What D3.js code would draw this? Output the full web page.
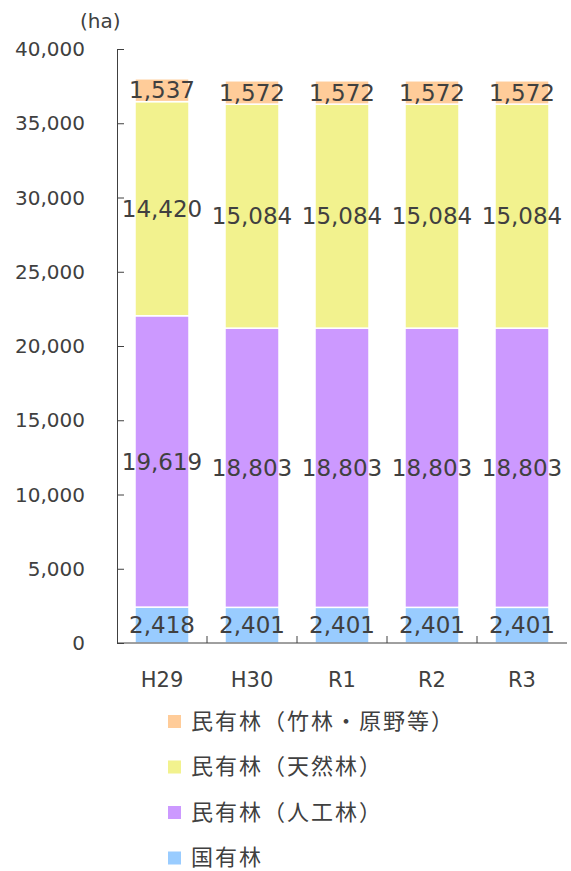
<!DOCTYPE html>
<html lang="ja">
<head>
<meta charset="UTF-8">
<title>森林面積の推移</title>
<script src="https://d3js.org/d3.v7.min.js"></script>
<style>
    body {
        margin: 0;
        background: #fff;
        font-family: "DejaVu Sans", "Noto Sans CJK JP", sans-serif;
    }
    text { fill: #404040; }
</style>
</head>
<body>
<script>
    // data
    const years = ["H29", "H30", "R1", "R2", "R3"];
    const kokuyu = [2418, 2401, 2401, 2401, 2401];     // 国有林
    const jinko = [19619, 18803, 18803, 18803, 18803]; // 民有林（人工林）
    const tennen = [14420, 15084, 15084, 15084, 15084]; // 民有林（天然林）
    const chiku = [1537, 1572, 1572, 1572, 1572];       // 民有林（竹林・原野等）
    const seriesNames = ["国有林", "民有林（人工林）", "民有林（天然林）", "民有林（竹林・原野等）"];
    const yTicks = [0, 5000, 10000, 15000, 20000, 25000, 30000, 35000, 40000];

    const colors = ["#99CCFF", "#CC99FF", "#F2F28E", "#FFCC99"];

    const width = 571, height = 871;
    const margin = {left: 117, top: 49, right: 4, bottom: 228};

    const svg = d3.select("body").append("svg")
        .attr("width", width)
        .attr("height", height);

    const rows = years.map((y, i) => ({
        year: y, s0: kokuyu[i], s1: jinko[i], s2: tennen[i], s3: chiku[i]
    }));
    const stacked = d3.stack().keys(["s0", "s1", "s2", "s3"])(rows);

    const x = d3.scaleBand()
        .domain(years)
        .range([margin.left, width - margin.right])
        .paddingInner(0.4)
        .paddingOuter(0.2);

    const y = d3.scaleLinear()
        .domain([0, 40000])
        .range([height - margin.bottom, margin.top]);

    // bars
    const layer = svg.selectAll("g.layer")
        .data(stacked)
        .enter().append("g")
        .attr("class", "layer")
        .attr("fill", (d, i) => colors[i]);

    layer.selectAll("rect")
        .data(d => d)
        .enter().append("rect")
        .attr("x", d => x(d.data.year))
        .attr("width", x.bandwidth())
        .attr("y", d => y(d[1]))
        .attr("height", d => y(d[0]) - y(d[1]))
        .attr("stroke", "#fff")
        .attr("stroke-width", 1.5);

    // value labels
    layer.selectAll("text")
        .data(d => d)
        .enter().append("text")
        .attr("x", d => x(d.data.year) + x.bandwidth() / 2)
        .attr("y", d => (y(d[0]) + y(d[1])) / 2)
        .attr("dy", "0.36em")
        .attr("text-anchor", "middle")
        .attr("font-size", 23)
        .text(d => d3.format(",")(d[1] - d[0]));

    // y axis
    const yAxis = svg.append("g")
        .attr("transform", `translate(${margin.left},0)`)
        .call(d3.axisRight(y).tickValues(yTicks).tickSize(7).tickFormat(""));
    yAxis.select(".domain").attr("stroke", "#404040");
    yAxis.selectAll(".tick line").attr("stroke", "#404040");

    svg.selectAll("text.ytick")
        .data(yTicks)
        .enter().append("text")
        .attr("class", "ytick")
        .attr("x", 85)
        .attr("y", d => y(d))
        .attr("dy", "0.36em")
        .attr("text-anchor", "end")
        .attr("font-size", 20)
        .text(d => d3.format(",")(d));

    svg.append("text")
        .attr("x", 80)
        .attr("y", 28)
        .attr("font-size", 20)
        .text("(ha)");

    // x axis
    const x0 = y(0);
    svg.append("line")
        .attr("x1", margin.left).attr("x2", width - margin.right)
        .attr("y1", x0).attr("y2", x0)
        .attr("stroke", "#404040");
    svg.selectAll("line.xtick")
        .data(years.slice(1))
        .enter().append("line")
        .attr("class", "xtick")
        .attr("x1", d => x(d) - x.step() * 0.2)
        .attr("x2", d => x(d) - x.step() * 0.2)
        .attr("y1", x0).attr("y2", x0 - 7)
        .attr("stroke", "#404040");

    svg.selectAll("text.xlab")
        .data(years)
        .enter().append("text")
        .attr("class", "xlab")
        .attr("x", d => x(d) + x.bandwidth() / 2)
        .attr("y", 687)
        .attr("text-anchor", "middle")
        .attr("font-size", 21)
        .text(d => d);

    // legend (top item is the top of the stack)
    const legend = svg.selectAll("g.legend")
        .data(seriesNames.map((n, i) => ({name: n, color: colors[i]})).reverse())
        .enter().append("g")
        .attr("class", "legend")
        .attr("transform", (d, i) => `translate(168,${721 + i * 45.5})`);

    legend.append("rect")
        .attr("x", 0).attr("y", -6)
        .attr("width", 13).attr("height", 13)
        .attr("fill", d => d.color);

    legend.append("text")
        .attr("x", 23)
        .attr("dy", "0.36em")
        .attr("font-size", 22)
        .attr("letter-spacing", 2)
        .attr("font-family", "'Noto Sans CJK JP', sans-serif")
        .text(d => d.name);
</script>
</body>
</html>
